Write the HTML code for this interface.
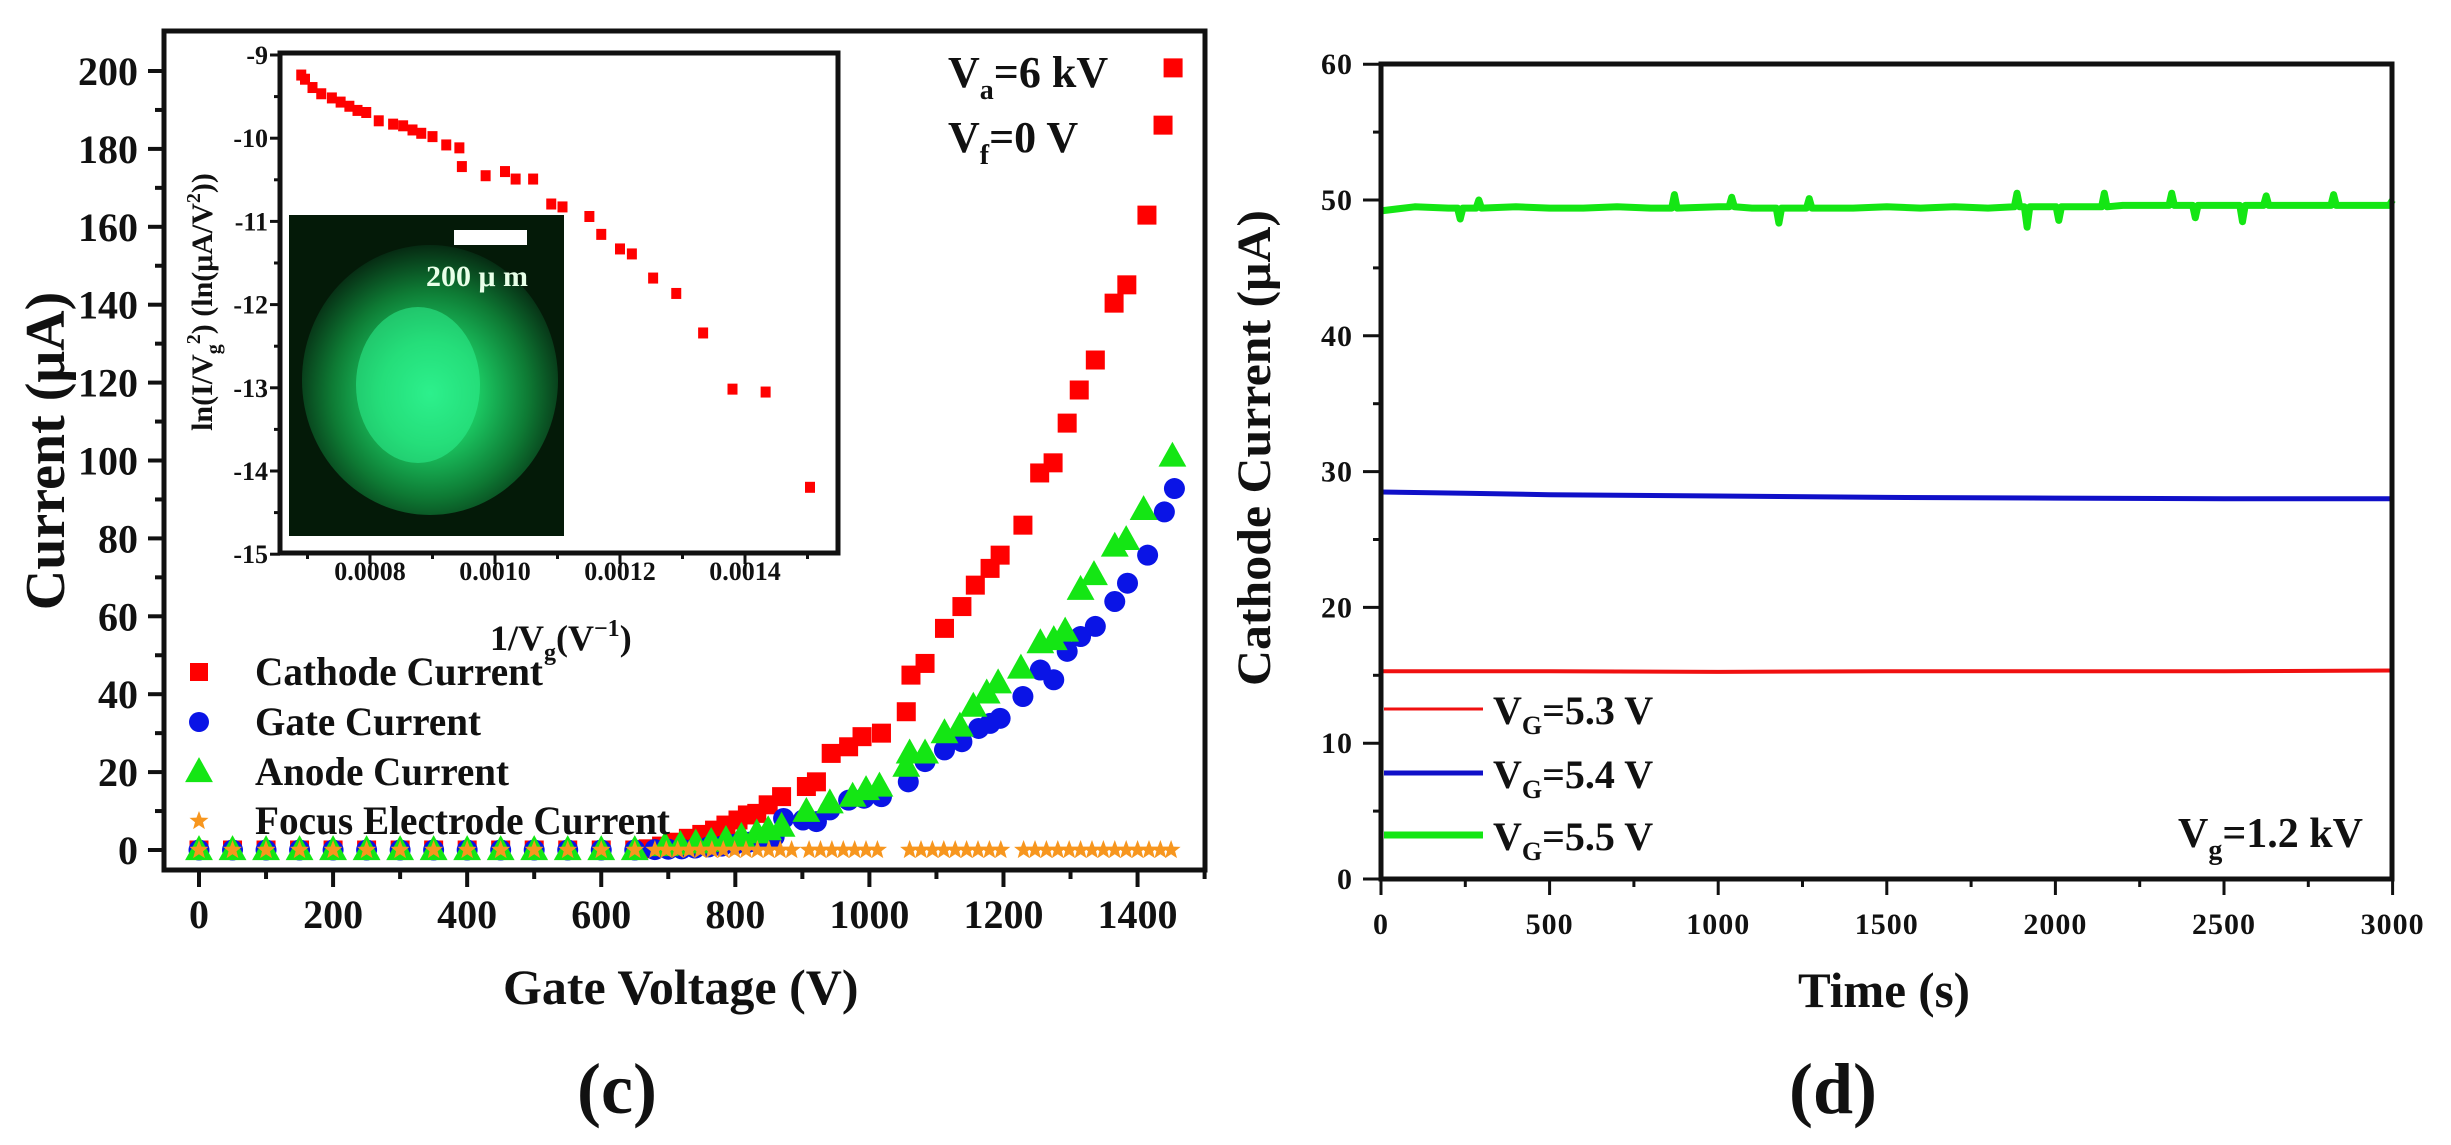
<!DOCTYPE html>
<html><head><meta charset="utf-8"><style>
html,body{margin:0;padding:0;background:#fff}
svg{display:block}
text{font-family:"Liberation Serif",serif;font-weight:bold;fill:#111}
</style></head><body>
<svg id="s" width="2451" height="1145" viewBox="0 0 2451 1145" xmlns="http://www.w3.org/2000/svg">
<defs>
<radialGradient id="glow" cx="50%" cy="55%" r="55%">
<stop offset="0" stop-color="#2cf08a"/><stop offset="0.35" stop-color="#1bc862"/><stop offset="0.7" stop-color="#0e7a34"/><stop offset="1" stop-color="#062a12"/>
</radialGradient>
</defs>
<g id="panelC"></g>
<g id="panelD"></g>
</svg>
<script>
// ---------- Panel (c) data ----------
const cathodeV=[0,50,100,150,200,250,300,350,400,450,500,550,600,650,670,690,710,730,750,769,786,804,818,832,849,869,906,921,943,969,989,1018,1055,1062,1083,1112,1138,1158,1180,1195,1229,1254,1274,1295,1313,1337,1365,1384,1414,1438,1453];
const cathodeI=[0,0,0,0,0,0,0,0,0,0,0,0,0,0,0.3,1,2,3,4,5.1,6.4,7.7,9.0,9.4,11.6,13.7,16.3,17.5,24.8,26.5,29.1,30.0,35.5,44.9,47.9,56.9,62.5,68.0,72.3,75.7,83.4,96.8,99.4,109.6,118.1,125.8,140.4,145.1,163.0,186.1,200.8];
const gateV=[0,50,100,150,200,250,300,350,400,450,500,550,600,650,680,700,720,740,760,780,800,820,838,858,872,901,921,941,969,992,1018,1058,1083,1112,1138,1163,1180,1195,1229,1255,1275,1295,1315,1337,1366,1385,1415,1440,1455];
const gateI=[0,0,0,0,0,0,0,0,0,0,0,0,0,0,0.1,0.2,0.3,0.5,0.8,1,1.5,2,2.6,3.4,8.1,7.7,7.3,10.3,12.8,13.3,13.7,17.5,22.7,25.7,27.8,31.2,32.5,33.8,39.4,46.2,43.7,51.0,54.8,57.4,63.8,68.5,75.7,86.8,92.8];
const anodeV=[0,50,100,150,200,250,300,350,400,450,500,550,600,650,695,718,741,764,786,809,832,849,869,906,941,975,995,1015,1055,1060,1083,1112,1135,1155,1175,1192,1226,1255,1275,1292,1315,1335,1366,1383,1409,1452];
const anodeI=[0,0,0,0,0,0,0,0,0,0,0,0,0,0,1,1.3,1.7,2.1,2.6,3.4,4.3,5.1,6.0,9.8,12.0,13.7,15.4,16.3,21.4,24.8,24.8,30.0,31.7,36.8,40.2,42.8,46.6,53.1,53.9,56.1,66.8,70.6,77.9,79.6,87.3,101];
const focusV=[0,50,100,150,200,250,300,350,400,450,500,550,600,650,680,697,714,731,748,765,782,799,816,833,850,867,884,910,927,944,961,978,995,1012,1060,1077,1094,1111,1128,1145,1162,1179,1196,1230,1247,1264,1281,1298,1315,1332,1349,1366,1383,1400,1417,1434,1450];
const focusI=[0,0,0,0,0,0,0,0,0,0,0,0,0,0,0,0,0,0,0,0,0,0,0,0,0,0,0,0,0,0,0,0,0,0,0,0,0,0,0,0,0,0,0,0,0,0,0,0,0,0,0,0,0,0,0,0,0];
const cYTicks=[0,20,40,60,80,100,120,140,160,180,200];
const cXTicks=[0,200,400,600,800,1000,1200,1400];
// inset (Fowler-Nordheim) data
const fnX=[0.000690,0.000696,0.000708,0.000722,0.000739,0.000753,0.000767,0.000780,0.000794,0.000814,0.000837,0.000853,0.000868,0.000882,0.000900,0.000922,0.000943,0.000947,0.000985,0.001016,0.001033,0.001061,0.001090,0.001108,0.001151,0.001170,0.001200,0.001219,0.001253,0.001290,0.001333,0.001380,0.001433,0.001504];
const fnY=[-9.235,-9.285,-9.385,-9.46,-9.51,-9.56,-9.61,-9.66,-9.685,-9.785,-9.825,-9.845,-9.895,-9.935,-9.975,-10.075,-10.11,-10.335,-10.445,-10.395,-10.485,-10.485,-10.785,-10.82,-10.935,-11.15,-11.325,-11.385,-11.675,-11.86,-12.335,-13.01,-13.045,-14.19];
const inYTicks=[-9,-10,-11,-12,-13,-14,-15];
const inXTicks=[0.0008,0.0010,0.0012,0.0014];
const inXTickLabels=["0.0008","0.0010","0.0012","0.0014"];
// ---------- Panel (d) data ----------
const redT=[0,500,1000,1500,2000,2500,3000];
const redI=[15.3,15.3,15.25,15.3,15.3,15.3,15.35];
const blueT=[0,250,500,1000,1500,2000,2500,3000];
const blueI=[28.5,28.4,28.3,28.2,28.1,28.05,28.0,28.0];
const greenT=[0,100,200,227,235,243,282,290,298,400,500,600,700,800,862,870,878,1000,1032,1040,1048,1100,1172,1180,1188,1262,1270,1278,1400,1500,1600,1700,1800,1878,1886,1894,1908,1916,1924,2002,2010,2018,2137,2145,2153,2200,2337,2345,2353,2407,2415,2423,2547,2555,2563,2617,2625,2633,2700,2817,2825,2833,2900,2990,3000];
const greenI=[49.2,49.5,49.4,49.4,48.6,49.4,49.4,50.0,49.4,49.5,49.4,49.4,49.5,49.4,49.4,50.4,49.4,49.5,49.5,50.2,49.5,49.4,49.4,48.3,49.4,49.4,50.1,49.4,49.4,49.5,49.4,49.5,49.4,49.5,50.5,49.5,49.5,48.0,49.5,49.5,48.5,49.5,49.5,50.5,49.5,49.6,49.6,50.5,49.6,49.6,48.7,49.6,49.6,48.4,49.6,49.6,50.3,49.6,49.6,49.6,50.4,49.6,49.6,49.6,50.0];
const dYTicks=[0,10,20,30,40,50,60];
const dXTicks=[0,500,1000,1500,2000,2500,3000];

const NS="http://www.w3.org/2000/svg";
function mk(parent,tag,attrs,txt){const e=document.createElementNS(NS,tag);for(const k in attrs)e.setAttribute(k,attrs[k]);if(txt!==undefined)e.textContent=txt;parent.appendChild(e);return e;}

// ===== Panel C =====
const C=document.getElementById('panelC');
const cx=v=>199+0.6704*v, cy=v=>850-3.895*v;
const cL=164,cR=1205,cT=31,cB=870;
// ticks
for(let v=0;v<=200;v+=10){const major=v%20===0;
 const t=mk(C,'line',{x1:cL-(major?16:9),x2:cL,y1:cy(v),y2:cy(v),stroke:'#111','stroke-width':4});
 
 }
cYTicks.forEach(v=>{const t=mk(C,'text',{x:138,y:cy(v)+14,'text-anchor':'end','font-size':40},String(v));
 
 });
for(let v=0;v<=1500;v+=100){const major=v%200===0;const x=cx(v);if(x>cR)continue;
 const t=mk(C,'line',{x1:x,x2:x,y1:cB,y2:cB+(major?17:9),stroke:'#111','stroke-width':4});
 
 }
cXTicks.forEach(v=>{const t=mk(C,'text',{x:cx(v),y:928,'text-anchor':'middle','font-size':40},String(v));
 
 });
// frame
const cf=mk(C,'rect',{x:cL,y:cT,width:cR-cL,height:cB-cT,fill:'none',stroke:'#111','stroke-width':5});


// axis titles
const cyt=mk(C,'text',{x:0,y:0,transform:'translate(64,451) rotate(-90)','text-anchor':'middle','font-size':56},'Current (μA)');


const cxt=mk(C,'text',{x:503,y:1004,'font-size':50},'Gate Voltage (V)');


const cc=mk(C,'text',{x:617,y:1113,'text-anchor':'middle','font-size':72,'font-weight':'normal'},'(c)');


// annotation
const va=mk(C,'text',{x:948,y:87,'font-size':44});


mk(va,'tspan',{},'V');mk(va,'tspan',{dy:12,'font-size':28},'a');mk(va,'tspan',{dy:-12},'=6 kV');
const vf=mk(C,'text',{x:948,y:152,'font-size':44});


mk(vf,'tspan',{},'V');mk(vf,'tspan',{dy:12,'font-size':28},'f');mk(vf,'tspan',{dy:-12},'=0 V');

// inset
const I=mk(C,'g',{});


const ix=v=>370+(v-0.0008)/0.0002*125, iy=v=>55+(-9-v)*83.2;
const iL=280,iR=838,iT=53,iB=553;
mk(I,'rect',{x:iL,y:iT,width:iR-iL,height:iB-iT,fill:'#fff'});
for(let k=0;k<=12;k++){const v=-9-k*0.5;const major=k%2===0;
 const t=mk(I,'line',{x1:iL-(major?10:6),x2:iL,y1:iy(v),y2:iy(v),stroke:'#111','stroke-width':3});
 
 }
inYTicks.forEach(v=>{const t=mk(I,'text',{x:268,y:iy(v)+9,'text-anchor':'end','font-size':26},String(v));
 
 });
for(let k=7;k<=15;k++){const v=k*0.0001;const major=k%2===0;
 const t=mk(I,'line',{x1:ix(v),x2:ix(v),y1:iB,y2:iB+(major?11:6),stroke:'#111','stroke-width':3});
 
 }
inXTicks.forEach((v,i)=>{const t=mk(I,'text',{x:ix(v),y:580,'text-anchor':'middle','font-size':26},inXTickLabels[i]);
 
 });
// photo
const ph=mk(I,'g',{});


mk(ph,'rect',{x:289,y:215,width:275,height:321,fill:'#041a08'});
mk(ph,'ellipse',{cx:430,cy:380,rx:128,ry:135,fill:'url(#glow)'});
mk(ph,'ellipse',{cx:418,cy:385,rx:62,ry:78,fill:'#2ef08e',opacity:0.55});
const sb=mk(ph,'rect',{x:454,y:230,width:73,height:15,fill:'#fff'});


const sbt=mk(ph,'text',{x:426,y:286,'font-size':30,style:'fill:#e8ffe8'},'200 μ m');


// inset frame
mk(I,'rect',{x:iL,y:iT,width:iR-iL,height:iB-iT,fill:'none',stroke:'#111','stroke-width':5});
fnX.forEach((v,i)=>{const r=mk(I,'rect',{x:ix(v)-5,y:iy(fnY[i])-5,width:10,height:11,fill:'#f00'});
 
 });
const iyt=mk(I,'text',{x:0,y:0,transform:'translate(212,302) rotate(-90)','text-anchor':'middle','font-size':30});


mk(iyt,'tspan',{},'ln(I/V');mk(iyt,'tspan',{dy:8,'font-size':20},'g');mk(iyt,'tspan',{dy:-20,'font-size':20},'2');mk(iyt,'tspan',{dy:12},') (ln(μA/V');mk(iyt,'tspan',{dy:-12,'font-size':20},'2');mk(iyt,'tspan',{dy:12},'))');
const ixt=mk(I,'text',{x:490,y:650,'font-size':36});


mk(ixt,'tspan',{},'1/V');mk(ixt,'tspan',{dy:10,'font-size':24},'g');mk(ixt,'tspan',{dy:-10},'(V');mk(ixt,'tspan',{dy:-14,'font-size':24},'−1');mk(ixt,'tspan',{dy:14},')');

// markers
function sq(g,x,y,s,c){return mk(g,'rect',{x:x-s/2,y:y-s/2,width:s,height:s,fill:c});}
function circ(g,x,y,r,c){return mk(g,'circle',{cx:x,cy:y,r:r,fill:c});}
function tri(g,x,y,s,c){return mk(g,'polygon',{points:`${x},${y-s*0.62} ${x-s*0.58},${y+s*0.42} ${x+s*0.58},${y+s*0.42}`,fill:c});}
function star(g,x,y,R,c){let p=[];for(let k=0;k<10;k++){const a=-Math.PI/2+k*Math.PI/5;const rr=k%2?R*0.42:R;p.push((x+rr*Math.cos(a)).toFixed(1)+','+(y+rr*Math.sin(a)).toFixed(1));}return mk(g,'polygon',{points:p.join(' '),fill:c});}
const gC=mk(C,'g',{});
cathodeV.forEach((v,i)=>{const e=sq(gC,cx(v),cy(cathodeI[i]),19,'#f00');
 
 });
const gG=mk(C,'g',{});
gateV.forEach((v,i)=>{const e=circ(gG,cx(v),cy(gateI[i]),10.5,'#0a14e6');
 
 });
const gA=mk(C,'g',{});
anodeV.forEach((v,i)=>{const e=tri(gA,cx(v),cy(anodeI[i]),24,'#14e614');
 
 });
const gF=mk(C,'g',{});
focusV.forEach((v,i)=>{const e=star(gF,cx(v),cy(focusI[i]),10,'#f7961e');
 
 });
// legend
const leg=mk(C,'g',{});
const legY=[672,722,772,821];
const legN=['Cathode Current','Gate Current','Anode Current','Focus Electrode Current'];
const legW=[288,226,254,415];
sq(leg,199,legY[0],18,'#f00');circ(leg,199,legY[1],10,'#0a14e6');tri(leg,199,legY[2],24,'#14e614');star(leg,199,legY[3],10,'#f7961e');
legN.forEach((n,i)=>{const t=mk(leg,'text',{x:255,y:legY[i]+13,'font-size':40,textLength:legW[i],lengthAdjust:'spacingAndGlyphs'},n);
 
 });

// ===== Panel D =====
const D=document.getElementById('panelD');
const dx=v=>1381+v*0.3372, dy=v=>879-v*13.58;
const dL=1381,dR=2392,dT=64,dB=879;
for(let v=0;v<=60;v+=5){const major=v%10===0;
 const t=mk(D,'line',{x1:dL-(major?18:8),x2:dL,y1:dy(v),y2:dy(v),stroke:'#111','stroke-width':3});
 
 }
dYTicks.forEach(v=>{const t=mk(D,'text',{x:1353,y:dy(v)+10,'text-anchor':'end','font-size':30,style:'letter-spacing:1px'},String(v));
 
 });
for(let v=0;v<=3000;v+=250){const major=v%500===0;
 const t=mk(D,'line',{x1:dx(v),x2:dx(v),y1:dB,y2:dB+(major?16:8),stroke:'#111','stroke-width':3});
 
 }
dXTicks.forEach(v=>{const t=mk(D,'text',{x:dx(v),y:934,'text-anchor':'middle','font-size':30,style:'letter-spacing:1px'},String(v));
 
 });
function pline(T,V,c,w,name){const pts=T.map((t,i)=>dx(t).toFixed(1)+','+dy(V[i]).toFixed(1)).join(' ');
 const p=mk(D,'polyline',{points:pts,fill:'none',stroke:c,'stroke-width':w,'stroke-linejoin':'round'});
 
 }
pline(redT,redI,'#f01010',4,'series-vg-5-3');
pline(blueT,blueI,'#1010c8',5,'series-vg-5-4');
pline(greenT,greenI,'#14e614',7,'series-vg-5-5');
const df=mk(D,'rect',{x:dL,y:dT,width:dR-dL,height:dB-dT,fill:'none',stroke:'#111','stroke-width':5});


const dyt=mk(D,'text',{x:0,y:0,transform:'translate(1270,448) rotate(-90)','text-anchor':'middle','font-size':48,textLength:476,lengthAdjust:'spacingAndGlyphs'},'Cathode Current (μA)');


const dxt=mk(D,'text',{x:1798,y:1007,'font-size':50,textLength:172,lengthAdjust:'spacingAndGlyphs'},'Time (s)');


const dd=mk(D,'text',{x:1833,y:1113,'text-anchor':'middle','font-size':72,'font-weight':'normal'},'(d)');


// legend d
const dlegY=[709,773,835], dlegC=['#f01010','#1010c8','#14e614'], dlegW=[3,5,7], dlegN=['5.3','5.4','5.5'];
dlegY.forEach((y,i)=>{
 const l=mk(D,'line',{x1:1384,x2:1483,y1:y,y2:y,stroke:dlegC[i],'stroke-width':dlegW[i]});
 
 
 const t=mk(D,'text',{x:1493,y:y+15,'font-size':40});
 
 
 mk(t,'tspan',{},'V');mk(t,'tspan',{dy:10,'font-size':26},'G');mk(t,'tspan',{dy:-10},'='+dlegN[i]+' V');
});
const vg=mk(D,'text',{x:2178,y:847,'font-size':42});


mk(vg,'tspan',{},'V');mk(vg,'tspan',{dy:12,'font-size':28},'g');mk(vg,'tspan',{dy:-12},'=1.2 kV');
</script>
</body></html>
